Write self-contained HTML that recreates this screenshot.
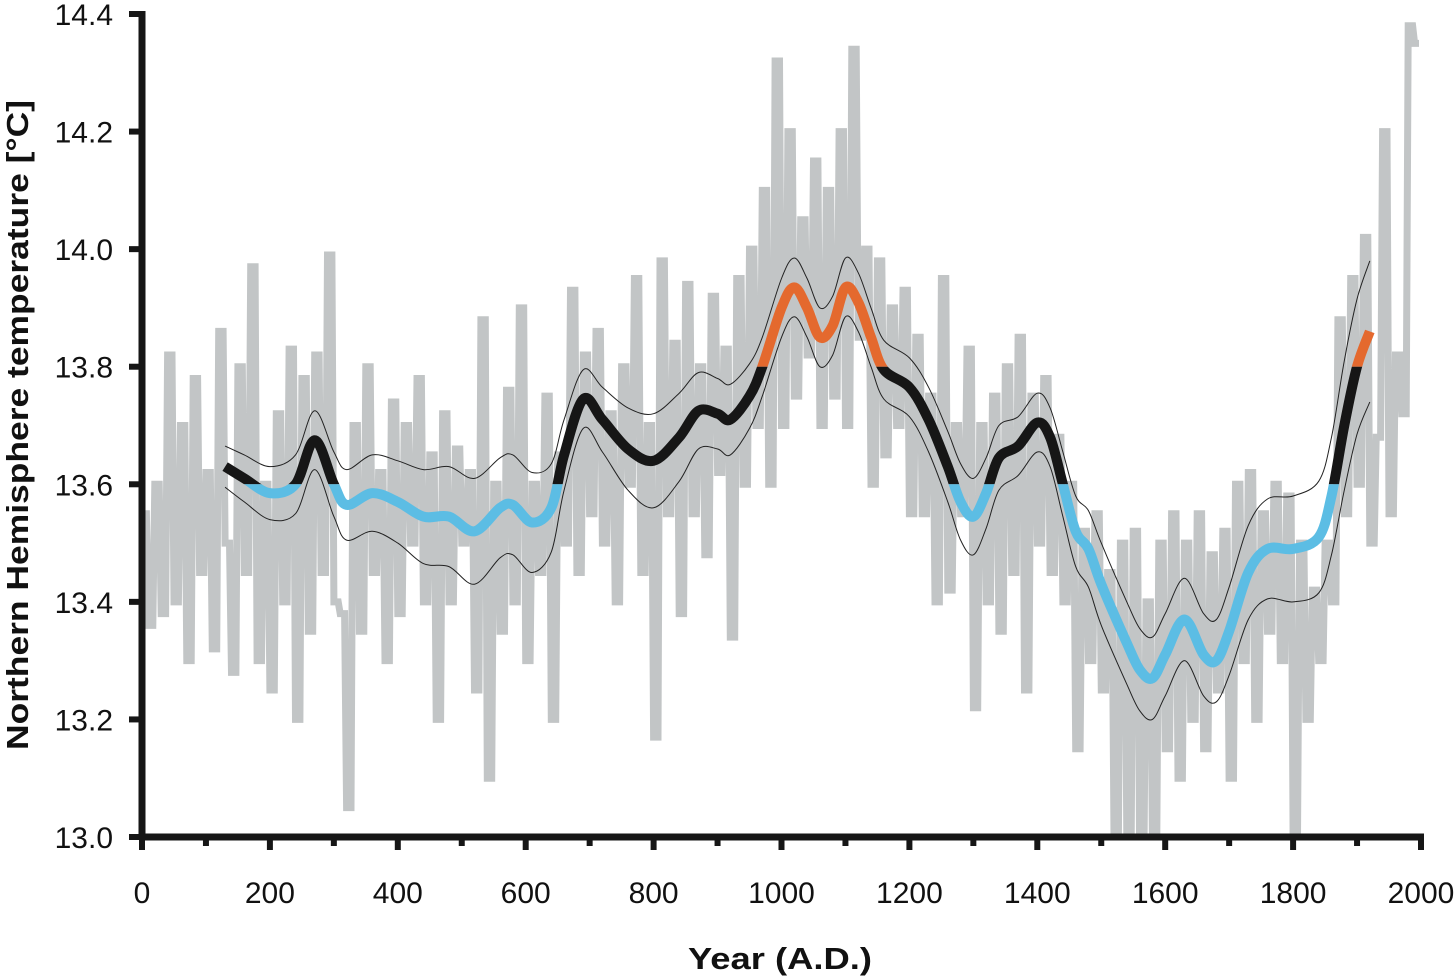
<!DOCTYPE html>
<html><head><meta charset="utf-8"><style>
html,body{margin:0;padding:0;background:#fff;}
svg{display:block;}
text{font-family:"Liberation Sans",sans-serif;fill:#111;}
</style></head><body>
<svg id="chart" width="1456" height="976" viewBox="0 0 1456 976">
<defs>
<clipPath id="clipOrange"><rect id="rcO" x="0" y="0" width="1456" height="0"/></clipPath>
<clipPath id="clipBlack"><rect id="rcK" x="0" y="0" width="1456" height="0"/></clipPath>
<clipPath id="clipBlue"><rect id="rcB" x="0" y="0" width="1456" height="0"/></clipPath>
</defs>
<g id="plot"></g>
<g id="axes"></g>
<text x="780" y="969" text-anchor="middle" font-size="31" font-weight="bold" textLength="184" lengthAdjust="spacingAndGlyphs">Year (A.D.)</text>
<text transform="translate(28,425) rotate(-90)" text-anchor="middle" font-size="31" font-weight="bold" textLength="650" lengthAdjust="spacingAndGlyphs">Northern Hemisphere temperature [°C]</text>
</svg>
<script>
const annualYears = [];
for (let yr = 0; yr <= 1990; yr += 10) annualYears.push(yr);
const annualValues = [
13.55,13.36,13.6,13.38,13.82,13.4,13.7,13.3,13.78,13.45,13.62,13.32,13.86,13.5,
13.28,13.8,13.45,13.97,13.3,13.6,13.25,13.72,13.4,13.83,13.2,13.78,13.35,13.82,13.45,13.99,13.4,
13.38,13.05,13.7,13.35,13.8,13.45,13.62,13.3,13.74,13.38,13.7,13.5,13.78,13.4,13.65,13.2,13.72,13.4,13.66,13.5,13.62,13.25,13.88,13.1,13.6,13.35,13.76,13.4,13.9,13.3,13.6,13.45,13.75,13.2,13.65,
13.5,13.93,13.45,13.82,13.55,13.86,13.5,13.72,13.4,13.8,13.6,13.95,13.45,13.7,13.17,13.98,13.55,13.84,13.38,13.94,13.55,13.8,13.48,13.92,13.62,13.83,13.34,13.95,13.6,14.0,13.7,
14.1,13.6,14.32,13.7,14.2,13.75,14.05,13.82,14.15,13.7,14.1,13.75,14.2,13.7,14.34,13.85,14.0,13.6,13.98,13.65,13.9,13.7,13.93,13.55,
13.85,13.55,13.75,13.4,13.95,13.42,13.7,13.55,13.83,13.22,13.7,13.4,13.75,13.35,13.8,13.45,13.85,13.25,13.75,13.5,13.78,13.45,13.68,13.4,
13.6,13.15,13.52,13.3,13.55,13.25,13.45,13.0,13.5,13.0,13.52,12.98,13.4,13.0,13.5,13.15,13.55,13.1,13.5,13.2,13.55,13.15,13.48,13.25,13.52,13.1,13.6,13.3,13.62,13.2,13.55,13.35,13.6,13.3,13.58,13.0,13.5,13.2,13.42,13.3,13.5,13.4,
13.88,13.55,13.95,13.6,14.02,13.5,13.68,14.2,13.55,13.82,13.72,14.38,14.35
];
const smoothYears = [130,160,200,240,270,300,320,360,400,440,480,520,560,580,610,640,660,690,720,760,800,840,870,900,920,950,970,1000,1020,1040,1060,1080,1100,1120,1140,1160,1200,1230,1260,1280,1300,1320,1340,1370,1400,1420,1440,1460,1480,1500,1540,1560,1580,1600,1630,1660,1680,1700,1730,1760,1800,1840,1860,1880,1900,1920];
const smoothValues = [13.63,13.61,13.585,13.6,13.675,13.6,13.565,13.585,13.57,13.545,13.545,13.52,13.56,13.565,13.535,13.56,13.65,13.745,13.71,13.66,13.64,13.68,13.725,13.72,13.71,13.75,13.8,13.9,13.935,13.9,13.85,13.87,13.935,13.91,13.85,13.795,13.765,13.71,13.63,13.57,13.545,13.585,13.645,13.665,13.705,13.68,13.6,13.52,13.49,13.43,13.33,13.285,13.27,13.31,13.37,13.31,13.3,13.35,13.45,13.49,13.49,13.51,13.58,13.7,13.8,13.86];
const bandHalf = [0.035,0.04,0.045,0.05,0.05,0.055,0.06,0.065,0.07,0.08,0.085,0.09,0.085,0.085,0.085,0.075,0.06,0.05,0.055,0.07,0.08,0.075,0.065,0.06,0.06,0.055,0.05,0.05,0.05,0.05,0.05,0.05,0.05,0.05,0.05,0.05,0.05,0.055,0.06,0.065,0.065,0.06,0.055,0.05,0.05,0.05,0.055,0.06,0.065,0.07,0.07,0.07,0.07,0.07,0.07,0.07,0.07,0.075,0.08,0.085,0.09,0.095,0.1,0.11,0.115,0.12];
const xTicks = [0,200,400,600,800,1000,1200,1400,1600,1800,2000];
const yTicks = [13.0,13.2,13.4,13.6,13.8,14.0,14.2,14.4];
const thresholds = [13.6,13.8];

const X0=142, X1=1421, Y0=837, Y1=14;
const xs = v => X0 + (v-0)/(2000-0)*(X1-X0);
const ys = v => Y0 - (v-13.0)/(14.4-13.0)*(Y0-Y1);
const NS='http://www.w3.org/2000/svg';
const plot=document.getElementById('plot'), axes=document.getElementById('axes');
function mk(tag, attrs, parent){const e=document.createElementNS(NS,tag);for(const k in attrs)e.setAttribute(k,attrs[k]);parent.appendChild(e);return e;}
function smoothPath(pts){
  let d='M'+pts[0][0].toFixed(1)+','+pts[0][1].toFixed(1);
  for(let i=0;i<pts.length-1;i++){
    const p0=pts[Math.max(0,i-1)],p1=pts[i],p2=pts[i+1],p3=pts[Math.min(pts.length-1,i+2)];
    const c1=[p1[0]+(p2[0]-p0[0])/6,p1[1]+(p2[1]-p0[1])/6];
    const c2=[p2[0]-(p3[0]-p1[0])/6,p2[1]-(p3[1]-p1[1])/6];
    d+='C'+c1[0].toFixed(1)+','+c1[1].toFixed(1)+' '+c2[0].toFixed(1)+','+c2[1].toFixed(1)+' '+p2[0].toFixed(1)+','+p2[1].toFixed(1);
  }
  return d;
}
mk('clipPath',{id:'plotClip'},document.querySelector('defs'));
mk('rect',{x:X0,y:0,width:X1-X0+10,height:Y0},document.getElementById('plotClip'));

// stepped gray series
let gd='';
annualYears.forEach((yr,i)=>{
  const xa=xs(yr), xb=xs(yr+10), y=ys(annualValues[i]);
  gd += (i===0?'M':'L')+xa.toFixed(1)+','+y.toFixed(1)+'L'+(xb-2).toFixed(1)+','+y.toFixed(1);
});
const gray = mk('path',{d:gd,fill:'none',stroke:'#c2c5c6','stroke-width':7,'stroke-linejoin':'miter','stroke-miterlimit':20,'clip-path':'url(#plotClip)'},plot);



const up = mk('path',{d:smoothPath(smoothYears.map((yr,i)=>[xs(yr),ys(smoothValues[i]+bandHalf[i])])),fill:'none',stroke:'#222','stroke-width':1},plot);


const lo = mk('path',{d:smoothPath(smoothYears.map((yr,i)=>[xs(yr),ys(smoothValues[i]-bandHalf[i])])),fill:'none',stroke:'#222','stroke-width':1},plot);



const yHi=ys(thresholds[1]), yLo=ys(thresholds[0]);
const rcO=document.getElementById('rcO'); rcO.setAttribute('y',0); rcO.setAttribute('height',yHi);
const rcK=document.getElementById('rcK'); rcK.setAttribute('y',yHi); rcK.setAttribute('height',yLo-yHi);
const rcB=document.getElementById('rcB'); rcB.setAttribute('y',yLo); rcB.setAttribute('height',976-yLo);
const sd = smoothPath(smoothYears.map((yr,i)=>[xs(yr),ys(smoothValues[i])]));
const segs=[['clipOrange','#e4692e','smooth-warm-segments'],['clipBlack','#161616','smooth-neutral-segments'],['clipBlue','#5cbde4','smooth-cold-segments']];
for(const s of segs){
  const p=mk('path',{d:sd,fill:'none',stroke:s[1],'stroke-width':10,'clip-path':'url(#'+s[0]+')'},plot);
  
  
}

const ya=mk('line',{x1:X0,y1:Y1-3,x2:X0,y2:Y0+3,stroke:'#161616','stroke-width':7},axes);


const xa=mk('line',{x1:X0-3,y1:Y0,x2:X1+3,y2:Y0,stroke:'#161616','stroke-width':7},axes);


yTicks.forEach(v=>{
  const t=mk('line',{x1:X0-13,y1:ys(v),x2:X0,y2:ys(v),stroke:'#161616','stroke-width':6},axes);
  
  
  const l=mk('text',{x:113,y:ys(v)+11,'text-anchor':'end','font-size':30},axes);
  l.textContent=v.toFixed(1);
  
  
});
xTicks.forEach(v=>{
  const t=mk('line',{x1:xs(v),y1:Y0,x2:xs(v),y2:Y0+13,stroke:'#161616','stroke-width':6},axes);
  
  
  if(v<2000){const m=mk('line',{x1:xs(v+100),y1:Y0,x2:xs(v+100),y2:Y0+9,stroke:'#161616','stroke-width':6},axes);
  
  }
  const l=mk('text',{x:xs(v),y:903,'text-anchor':'middle','font-size':30},axes);
  l.textContent=String(v);
  
  
});
</script>
</body></html>
